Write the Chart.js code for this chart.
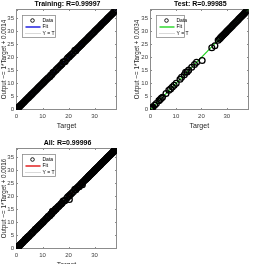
<!DOCTYPE html>
<html><head><meta charset="utf-8">
<script src="https://cdn.jsdelivr.net/npm/chart.js@4/dist/chart.umd.min.js"></script>
<style>
body{margin:0;background:#fff}
#wrap{position:relative;width:254px;height:264px;overflow:hidden;background:#fff}
canvas{position:absolute}
</style>
</head><body>
<div id="wrap">
<canvas id="c1" width="127" height="132" style="left:0;top:0"></canvas>
<canvas id="c2" width="127" height="132" style="left:127px;top:0"></canvas>
<canvas id="c3" width="127" height="139" style="left:0;top:132px"></canvas>
</div>
<script>
// ---- data ----
const xTickValues = [0, 10, 20, 30];
const yTickValues = [0, 5, 10, 15, 20, 25, 30, 35];
const axisRange = [-0.2, 38.6];

const trainTargets = [0,0.05,0.1,0.2,0.35,0.5,0.7,0.95,1.2,1.5,1.8,2.1,2.45,2.8,3.15,3.5,3.9,4.3,4.65,5.0,5.4,5.8,6.15,6.5,6.9,7.3,7.7,8.05,8.4,8.8,9.2,9.6,10.0,10.4,10.75,11.1,11.5,11.9,12.3,12.8,13.1,13.6,14.0,14.3,14.9,15.3,15.8,16.2,16.7,17.1,17.5,17.9,18.3,18.7,19.3,19.7,20.2,20.6,21.0,21.4,21.9,22.4,22.8,23.2,23.6,24.0,24.4,24.8,25.2,25.6,26.0,26.4,26.8,27.2,27.6,28.0,28.4,28.8,29.2,29.6,30.0,30.4,30.8,31.2,31.6,32.0,32.4,32.8,33.2,33.6,34.0,34.4,34.8,35.2,35.6,36.0,36.4,36.8,37.2,37.6,38.0,38.3];
const trainOutputs = [0,0.05,0.1,0.2,0.35,0.5,0.7,0.95,1.2,1.5,1.8,2.1,2.45,2.8,3.15,3.5,3.9,4.3,4.65,5.0,5.4,5.8,6.15,6.5,6.9,7.3,7.7,8.05,8.4,8.8,9.2,9.6,10.0,10.4,10.75,11.1,11.5,11.9,12.3,12.6,13.1,13.4,14.2,14.3,14.9,15.3,15.8,16.2,16.7,17.1,17.5,18.2,18.3,18.4,19.3,19.9,20.2,20.6,21.0,21.4,21.9,22.7,22.6,23.2,23.6,24.0,24.4,24.8,25.2,25.6,26.0,26.4,26.8,27.2,27.6,28.0,28.4,28.8,29.2,29.6,30.0,30.4,30.8,31.2,31.6,32.0,32.4,32.8,33.2,33.6,34.0,34.4,34.8,35.2,35.6,36.0,36.4,36.8,37.2,37.6,38.0,38.3];

const testTargets = [0,0.1,0.2,0.3,0.45,0.6,0.9,1.6,2.3,3.3,3.8,4.2,4.7,6.1,7.2,7.9,8.6,9.3,10.1,11.6,12.2,13.3,13.8,14.4,15.0,16.2,17.3,18.1,20.3,24.1,25.3,26.6,27.1,27.5,27.9,28.2,28.6,29.0,29.4,29.8,30.2,30.6,31.0,31.4,31.8,32.2,32.6,33.0,33.4,33.8,34.2,34.6,35.0,35.4,35.8,36.2,36.6,37.0,37.4,37.8,38.2];
const testOutputs = [0,0.1,0.2,0.3,0.45,0.6,0.9,1.6,2.3,3.4,3.8,4.3,4.7,6.1,7.4,7.9,8.6,9.3,10.1,11.6,12.4,13.3,14.3,14.4,15.1,16.2,17.3,18.1,18.8,23.7,24.5,26.6,27.1,27.5,27.9,28.2,28.6,29.0,29.4,29.8,30.2,30.6,31.0,31.4,31.8,32.2,32.6,33.0,33.4,33.8,34.2,34.6,35.0,35.4,35.8,36.2,36.6,37.0,37.4,37.8,38.2];

const allTargets = trainTargets.concat(testTargets);
const allOutputs = trainOutputs.concat(testOutputs);

const titles = ['Training: R=0.99997', 'Test: R=0.99985', 'All: R=0.99996'];
const fitSlopes = [1, 1, 1];
const fitIntercepts = [0.0014, 0.0034, 0.0016];
const fitColors = ['#1010e0', '#22d622', '#e01010'];
const legendLabels = ['Data', 'Fit', 'Y = T'];

// ---- drawing ----
const FONT = "'Liberation Sans', Arial, sans-serif";

const deco = {
  id: 'deco',
  beforeDatasetsDraw(ch) {
    const a = ch.chartArea, c = ch.ctx;
    c.save();
    c.strokeStyle = '#8c8c8c';
    c.lineWidth = 1;
    const L = Math.round(a.left) + 0.5, R = Math.round(a.right) - 0.5,
          T = Math.round(a.top) + 0.5, B = Math.round(a.bottom) - 0.5;
    c.strokeRect(L, T, R - L, B - T);
    const xs = ch.scales.x, ys = ch.scales.y;
    c.beginPath();
    xTickValues.forEach(v => { const p = Math.round(xs.getPixelForValue(v)) + 0.5;
      c.moveTo(p, B); c.lineTo(p, B - 1.5); c.moveTo(p, T); c.lineTo(p, T + 1.5); });
    yTickValues.forEach(v => { const p = Math.round(ys.getPixelForValue(v)) + 0.5;
      c.moveTo(L, p); c.lineTo(L + 1.5, p); c.moveTo(R, p); c.lineTo(R - 1.5, p); });
    c.stroke();
    c.restore();
  },
  afterDatasetsDraw(ch, args, opts) {
    const a = ch.chartArea, c = ch.ctx;
    c.save();
    c.fillStyle = '#000';
    c.font = 'bold 7px ' + FONT;
    c.textAlign = 'center';
    c.textBaseline = 'middle';
    c.fillText(opts.title, (a.left + a.right) / 2 + 1, a.top - 5);
    const bx = Math.round(a.left) + 6.5, by = Math.round(a.top) + 6.5, bw = opts.legendW, bh = 22;
    c.fillStyle = '#fff';
    c.fillRect(bx, by, bw, bh);
    c.strokeStyle = '#8c8c8c';
    c.lineWidth = 0.8;
    c.strokeRect(bx, by, bw, bh);
    const ds = ch.data.datasets;
    const rows = [by + 5, by + 11.5, by + 18];
    c.strokeStyle = '#000'; c.lineWidth = 0.9;
    c.beginPath(); c.arc(bx + 10, rows[0], 1.8, 0, Math.PI * 2); c.stroke();
    c.strokeStyle = ds[1].borderColor; c.lineWidth = 1.4;
    c.beginPath(); c.moveTo(bx + 3, rows[1]); c.lineTo(bx + 18, rows[1]); c.stroke();
    c.strokeStyle = '#a0a0a0'; c.lineWidth = 0.8; c.setLineDash([1, 1]);
    c.beginPath(); c.moveTo(bx + 3, rows[2]); c.lineTo(bx + 18, rows[2]); c.stroke();
    c.setLineDash([]);
    c.fillStyle = '#000';
    c.font = '5px ' + FONT;
    c.textAlign = 'left';
    ds.forEach((d, i) => c.fillText(d.label, bx + 20, rows[i]));
    c.restore();
  }
};

function build(id, idx, targets, outputs, opt) {
  const pts = targets.map((t, i) => ({ x: t, y: outputs[i] }));
  const lo = axisRange[0], hi = axisRange[1];
  const fit = [{ x: lo, y: fitSlopes[idx] * lo + fitIntercepts[idx] },
               { x: hi, y: fitSlopes[idx] * hi + fitIntercepts[idx] }];
  const ident = [{ x: lo, y: lo }, { x: hi, y: hi }];
  return new Chart(document.getElementById(id), {
    type: 'scatter',
    data: { datasets: [
      { label: legendLabels[0], data: pts, borderColor: '#000', backgroundColor: 'rgba(0,0,0,0)',
        pointRadius: 2.9, borderWidth: 1.3, pointBorderWidth: 1.3, showLine: false, order: 0 },
      { label: legendLabels[1], data: fit, borderColor: fitColors[idx], borderWidth: 1.2,
        pointRadius: 0, showLine: true, order: 1 },
      { label: legendLabels[2], data: ident, borderColor: '#a0a0a0', borderWidth: 0.8, borderDash: [1, 1.5],
        pointRadius: 0, showLine: true, order: 2 }
    ]},
    options: {
      responsive: false, devicePixelRatio: 1, animation: false, events: [],
      layout: { padding: { left: opt.padLeft, right: opt.padRight, top: opt.padTop, bottom: 0 } },
      plugins: { legend: { display: false }, tooltip: { enabled: false }, title: { display: false },
        deco: { title: titles[idx], legendW: opt.legendW } },
      scales: {
        x: { type: 'linear', min: lo, max: hi,
          afterBuildTicks: s => { s.ticks = xTickValues.map(v => ({ value: v })); },
          afterFit: s => { s.height = opt.xHeight; },
          grid: { display: false, drawTicks: false, tickLength: 0 }, border: { display: false },
          ticks: { autoSkip: false, maxRotation: 0, padding: 3, color: '#404040', font: { size: 6, family: FONT } },
          title: { display: true, text: 'Target', color: '#262626', padding: { top: 0, bottom: 1.5 }, font: { size: 7, family: FONT } } },
        y: { type: 'linear', min: lo, max: hi,
          afterBuildTicks: s => { s.ticks = yTickValues.map(v => ({ value: v })); },
          afterFit: s => { s.width = opt.yWidth; },
          grid: { display: false, drawTicks: false, tickLength: 0 }, border: { display: false },
          ticks: { autoSkip: false, padding: 2, color: '#404040', font: { size: 6, family: FONT } },
          title: { display: true, text: 'Output ~= 1*Target + ' + fitIntercepts[idx].toFixed(4), color: '#262626',
            padding: 0, font: { size: 6.3, family: FONT } } }
      }
    },
    plugins: [deco]
  });
}

build('c1', 0, trainTargets, trainOutputs, { padLeft: 0, padRight: 10, padTop: 9, yWidth: 16, xHeight: 22, legendW: 33 });
build('c2', 1, testTargets, testOutputs, { padLeft: 6, padRight: 3, padTop: 9, yWidth: 17, xHeight: 22, legendW: 28 });
build('c3', 2, allTargets, allOutputs, { padLeft: 0, padRight: 10, padTop: 16, yWidth: 16, xHeight: 22, legendW: 33 });
</script>
</body></html>
